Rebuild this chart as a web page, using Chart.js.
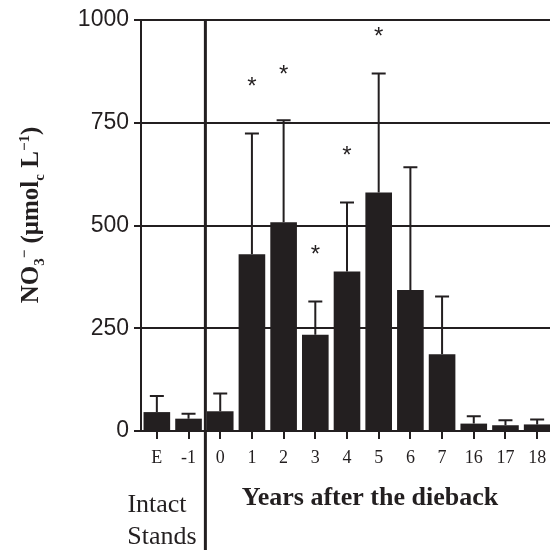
<!DOCTYPE html>
<html>
<head>
<meta charset="utf-8">
<script src="https://cdn.jsdelivr.net/npm/chart.js@4.4.1/dist/chart.umd.min.js"></script>
<style>
    html, body { margin: 0; padding: 0; background: #fff; overflow: hidden; }
</style>
</head>
<body>
<canvas id="chart" width="556" height="550"></canvas>
<script>
// Data
const categories = ['E', '-1', '0', '1', '2', '3', '4', '5', '6', '7', '16', '17', '18'];
const means = [46, 30, 48, 430, 508, 234, 388, 580, 343, 187, 18, 14, 16];
const errors = [39, 12, 43, 294, 248, 81, 168, 290, 299, 140, 18, 12, 12];
const stars = [null, null, null, 852, 880, 444, 683, 973, null, null, null, null, null];
const yTicks = [0, 250, 500, 750, 1000];

const ink = '#231f20';
const serif = '"Liberation Serif", "Times New Roman", serif';
const sans = '"Liberation Sans", Arial, sans-serif';

// error bars, asterisks, divider and the extra labels
const extras = {
    id: 'extras',
    afterDatasetsDraw(chart) {
        const ctx = chart.ctx;
        const x = chart.scales.x, y = chart.scales.y;
        const meta = chart.getDatasetMeta(0);
        ctx.save();
        ctx.strokeStyle = ink;
        ctx.lineWidth = 2;
        meta.data.forEach((bar, i) => {
            const top = y.getPixelForValue(means[i] + errors[i]);
            ctx.beginPath();
            ctx.moveTo(bar.x, bar.y);
            ctx.lineTo(bar.x, top);
            ctx.moveTo(bar.x - 7, top);
            ctx.lineTo(bar.x + 7, top);
            ctx.stroke();
        });

        ctx.fillStyle = ink;
        ctx.font = '24px ' + sans;
        ctx.textAlign = 'center';
        ctx.textBaseline = 'alphabetic';
        stars.forEach((v, i) => {
            if (v == null) return;
            ctx.fillText('*', x.getPixelForValue(i), y.getPixelForValue(v) + 13);
        });
        ctx.restore();
    },
    afterDraw(chart) {
        const ctx = chart.ctx;
        const x = chart.scales.x;
        const area = chart.chartArea;
        ctx.save();
        // divider between intact stands and years after dieback
        const dx = (x.getPixelForValue(1) + x.getPixelForValue(2)) / 2 + 1;
        ctx.strokeStyle = ink;
        ctx.lineWidth = 3;
        ctx.beginPath();
        ctx.moveTo(dx, area.top - 1);
        ctx.lineTo(dx, chart.height);
        ctx.stroke();

        ctx.fillStyle = ink;
        ctx.textAlign = 'center';
        ctx.textBaseline = 'middle';
        ctx.font = '26px ' + serif;
        ctx.fillText('Intact', 157, 505);
        ctx.fillText('Stands', 162, 537);
        ctx.font = 'bold 26px ' + serif;
        ctx.fillText('Years after the dieback', 370, 498);

        // y axis title with sub/superscripts
        const parts = [
            ['NO', 25, 0], ['3', 15, 6], ['\u2212', 15, -9], [' (\u03bcmol', 25, 0],
            ['c', 15, 6], [' L', 25, 0], ['\u22121', 15, -9], [')', 25, 0]
        ];
        let total = 0;
        parts.forEach(p => { ctx.font = 'bold ' + p[1] + 'px ' + serif; total += ctx.measureText(p[0]).width; });
        ctx.translate(38, 215);
        ctx.rotate(-Math.PI / 2);
        ctx.textAlign = 'left';
        ctx.textBaseline = 'alphabetic';
        let cx = -total / 2;
        parts.forEach(p => {
            ctx.font = 'bold ' + p[1] + 'px ' + serif;
            ctx.fillText(p[0], cx, p[2]);
            cx += ctx.measureText(p[0]).width;
        });
        ctx.restore();
    }
};

new Chart(document.getElementById('chart'), {
    type: 'bar',
    data: {
        labels: categories,
        datasets: [{
            data: means,
            backgroundColor: ink,
            borderWidth: 0,
            barPercentage: 0.84,
            categoryPercentage: 1
        }]
    },
    options: {
        responsive: false,
        animation: false,
        layout: { padding: { top: 20, right: 3, left: 0, bottom: 0 } },
        plugins: { legend: { display: false }, tooltip: { enabled: false } },
        scales: {
            x: {
                grid: { display: true, drawOnChartArea: false, offset: false, tickLength: 8, lineWidth: 2, color: ink },
                border: { display: true, width: 2, color: ink },
                ticks: { color: ink, font: { family: serif, size: 18 }, padding: 8, maxRotation: 0 },
                afterFit: s => { s.height = 119; }
            },
            y: {
                min: 0,
                max: 1000,
                afterBuildTicks: s => { s.ticks = yTicks.map(v => ({ value: v })); },
                grid: { color: ink, lineWidth: 2, tickLength: 7 },
                border: { display: true, width: 2, color: ink },
                ticks: { color: ink, font: { family: sans, size: 23 }, padding: 5, callback: v => String(v) },
                afterFit: s => { s.width = 141; }
            }
        }
    },
    plugins: [extras]
});
</script>
</body>
</html>
